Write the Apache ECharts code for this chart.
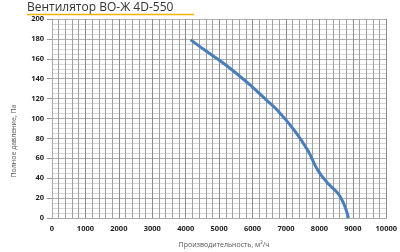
<!DOCTYPE html>
<html>
<head>
<meta charset="utf-8">
<script src="https://cdn.jsdelivr.net/npm/echarts@6/dist/echarts.min.js"></script>
<style>html,body{margin:0;padding:0;background:#fff;}#c{width:400px;height:252px;}</style>
</head>
<body>
<div id="c"></div>
<script>
const titleText = "Вентилятор ВО-Ж 4D-550";
const xTitle = "Производительность, м³/ч";
const yTitle = "Полное давление, Па";
const flow = [4150, 4600, 5150, 5600, 5950, 6400, 6750, 7250, 7650, 7950, 8250, 8550, 8720, 8800, 8870];
const pressure = [179, 168, 155, 143, 133, 119, 108, 88, 68, 48, 35, 25, 15, 8, 0];

const chart = echarts.init(document.getElementById('c'), null, {renderer: 'canvas'});
const font = "'Open Sans', sans-serif";
chart.setOption({
  animation: false,
  grid: {left: 52, right: 12, top: 19, bottom: 34},
  xAxis: {
    type: 'value', min: 0, max: 10000, interval: 1000,
    axisLine: {show: true, lineStyle: {color: '#aaa'}},
    axisTick: {show: false},
    minorTick: {show: false, splitNumber: 5},
    axisLabel: {fontFamily: font, fontSize: 7.5, fontWeight: 'bold', color: '#222', margin: 7, formatter: v => String(v)},
    splitLine: {show: true, lineStyle: {color: '#8c8c8c', width: 1}},
    minorSplitLine: {show: true, lineStyle: {color: '#a0a0a0', width: 1}}
  },
  yAxis: {
    type: 'value', min: 0, max: 200, interval: 20,
    axisLine: {show: true, lineStyle: {color: '#aaa'}},
    axisTick: {show: true, length: 5, lineStyle: {color: '#999'}},
    minorTick: {show: false, splitNumber: 4},
    axisLabel: {fontFamily: font, fontSize: 7.5, fontWeight: 'bold', color: '#222', margin: 8},
    splitLine: {show: true, lineStyle: {color: '#b0b0b0', width: 1}},
    minorSplitLine: {show: true, lineStyle: {color: '#d6d6d6', width: 1}}
  },
  series: [{
    type: 'line',
    data: flow.map((x, i) => [x, pressure[i]]),
    smooth: 0.4,
    showSymbol: false,
    lineStyle: {color: '#4a7ebb', width: 3},
    z: 5
  }],
  graphic: [
    {type: 'text', left: 27, top: 2, style: {text: titleText, font: "12px " + font, fill: '#333'}},
    {type: 'line', shape: {x1: 27, y1: 14.5, x2: 194, y2: 14.5}, style: {stroke: '#f2b400', lineWidth: 1.5}},
    {type: 'text', x: 14, y: 141, rotation: Math.PI / 2, style: {text: yTitle, font: "7px " + font, fill: '#555', align: 'center', verticalAlign: 'middle'}},
    {type: 'text', x: 224, y: 245, style: {text: xTitle, font: "7px " + font, fill: '#555', align: 'center', verticalAlign: 'middle'}}
  ]
});
</script>
</body>
</html>
